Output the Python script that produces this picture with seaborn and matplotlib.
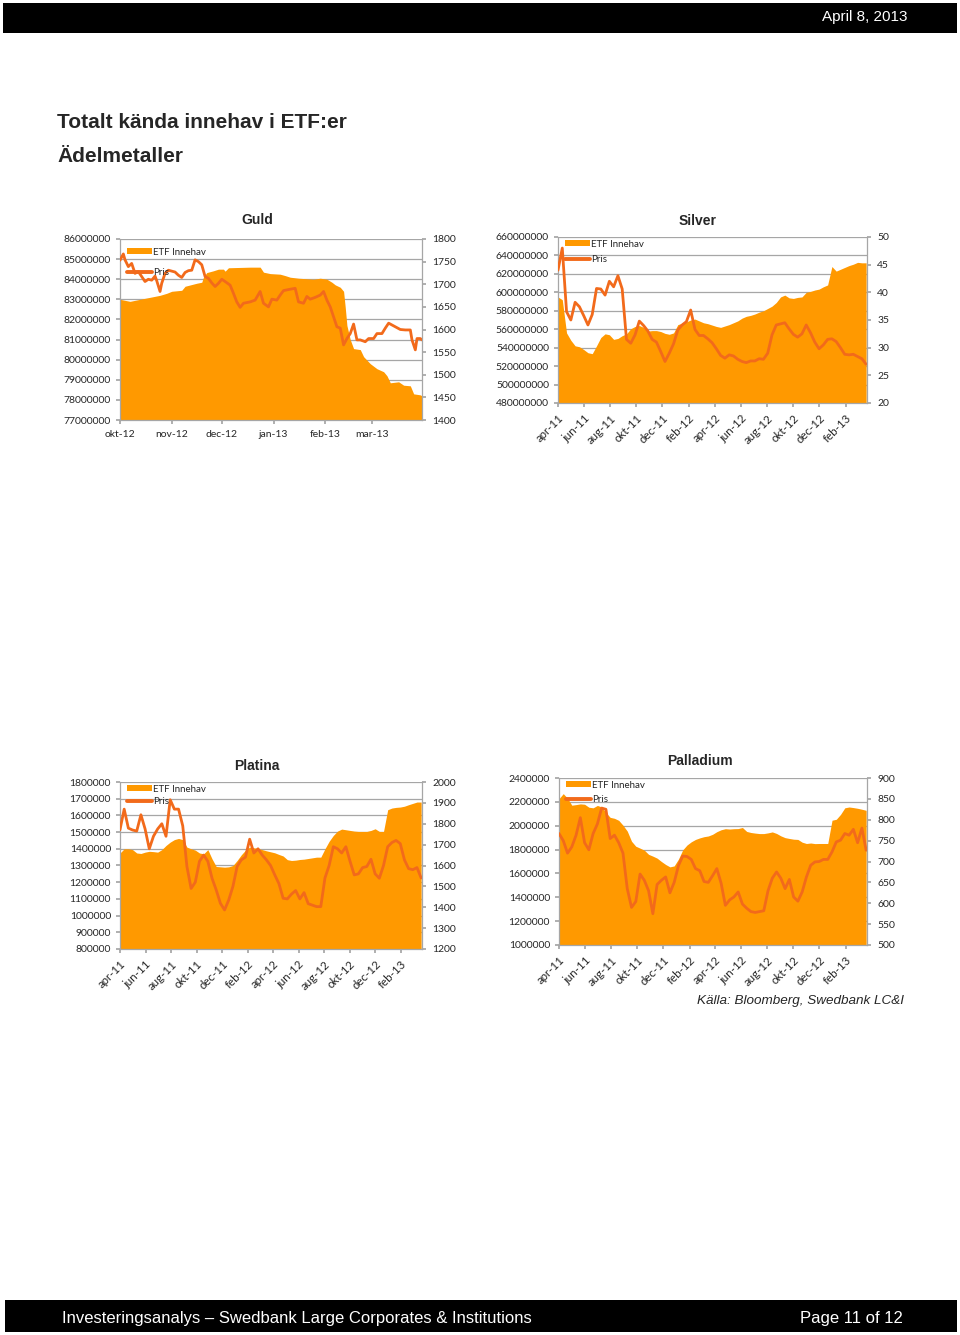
import numpy as np
import pandas as pd
import seaborn as sns
import matplotlib.pyplot as plt
from matplotlib.patches import Patch, Rectangle
from matplotlib.lines import Line2D
from matplotlib.ticker import FuncFormatter

sns.set_theme(style='white')
plt.rcParams['font.family'] = ['Lato', 'DejaVu Sans']

AREA = '#FF9900'
LINE = '#F26A1B'
GRID = '#A6A6A6'
HEAD = ['Liberation Sans Narrow', 'Liberation Sans', 'DejaVu Sans']

# Guld: days since 2012-10-01, holdings in millions of ounces
gold_etf_days = [0, 6, 12, 18, 24, 28, 31, 37, 39, 46, 49, 50, 52, 56, 59, 62, 63, 65, 78, 84,
                 86, 90, 96, 99, 102, 107, 116, 120, 124, 127, 129, 132, 134, 135, 136, 138, 140, 144, 146, 150,
                 154, 158, 160, 162, 167, 170, 174, 176, 180, 181]
gold_etf_mn = [83.0, 82.9, 83.0, 83.1, 83.2, 83.3, 83.4, 83.45, 83.65, 83.8,
               83.85, 84.1, 84.33, 84.42, 84.5, 84.5, 84.4, 84.57, 84.6, 84.6,
               84.35, 84.28, 84.25, 84.18, 84.1, 84.05, 84.0, 84.05, 84.0, 83.85,
               83.72, 83.6, 83.4, 82.6, 81.7, 81.0, 80.55, 80.5, 80.15, 79.8,
               79.55, 79.4, 79.2, 78.85, 78.9, 78.73, 78.7, 78.3, 78.25, 78.2]
gold_price_days = [0, 2, 3, 5, 7, 9, 11, 13, 15, 17, 19, 21, 22, 24, 25, 27, 29, 31, 33, 35,
                   37, 39, 41, 43, 45, 47, 49, 51, 53, 55, 57, 59, 61, 63, 66, 68, 70, 72, 74, 78,
                   81, 84, 86, 89, 91, 94, 96, 98, 102, 105, 107, 110, 112, 114, 117, 120, 122, 124, 126, 128,
                   130, 132, 134, 136, 138, 140, 142, 144, 147, 149, 152, 154, 157, 159, 161, 163, 165, 168, 171, 174,
                   175, 177, 178, 180, 181]
gold_price = [1753, 1767, 1754, 1739, 1746, 1724, 1728, 1717, 1706, 1711,
              1709, 1718, 1708, 1684, 1702, 1724, 1731, 1729, 1727, 1720,
              1715, 1726, 1730, 1731, 1754, 1750, 1743, 1717, 1713, 1703,
              1695, 1702, 1711, 1706, 1698, 1680, 1661, 1649, 1658, 1661,
              1665, 1684, 1658, 1650, 1667, 1665, 1676, 1686, 1689, 1691,
              1661, 1658, 1673, 1667, 1671, 1676, 1684, 1665, 1650, 1628,
              1606, 1603, 1566, 1580, 1591, 1612, 1577, 1577, 1573, 1580,
              1580, 1591, 1591, 1603, 1614, 1610, 1606, 1600, 1599, 1599,
              1577, 1555, 1580, 1580, 1577]
gold_months = ['okt-12', 'nov-12', 'dec-12', 'jan-13', 'feb-13', 'mar-13']

# Silver, Platina, Palladium: one reading every 10 days from 2011-04-01
long_months = ['apr-11', 'jun-11', 'aug-11', 'okt-11', 'dec-11', 'feb-12',
               'apr-12', 'jun-12', 'aug-12', 'okt-12', 'dec-12', 'feb-13']

silver_etf_mn = [595, 592, 556, 548, 542, 541, 538, 534.5, 533.5, 542,
                 551, 555, 554, 549, 550, 553, 555, 560.5, 563, 564,
                 562, 558, 558.5, 558.5, 557.5, 555.5, 554.5, 556, 565, 566.5,
                 568, 570, 571, 569, 567, 566, 564.5, 563, 562, 563.5,
                 565, 567, 569, 572, 574, 575, 576.5, 578.5, 580, 582.5,
                 585, 589, 595, 597, 594, 593.4, 594.5, 595, 600, 601,
                 602.5, 603.5, 606, 608, 628, 623, 625, 627, 629, 630.5,
                 632.5, 632, 632]
silver_price = [44.0, 48.0, 36.5, 35.0, 38.2, 37.4, 35.8, 34.1, 36.0, 40.7,
                40.6, 39.5, 42.0, 41.0, 43.0, 40.6, 31.5, 30.8, 32.3, 34.8,
                34.0, 33.0, 31.5, 31.0, 29.3, 27.5, 29.0, 30.7, 33.2, 34.1,
                34.7, 36.8, 33.3, 32.2, 32.2, 31.6, 30.9, 29.8, 28.6, 28.1,
                28.7, 28.5, 27.9, 27.5, 27.3, 27.6, 27.6, 28.0, 27.9, 29.0,
                32.3, 34.1, 34.3, 34.5, 33.4, 32.4, 31.9, 32.5, 34.1, 32.7,
                31.0, 29.8, 30.5, 31.5, 31.6, 31.1, 30.0, 28.8, 28.7, 28.8,
                28.4, 28.0, 27.0]

platina_etf_k = [1375, 1400, 1400, 1395, 1375, 1372, 1380, 1385, 1383, 1380,
                 1395, 1420, 1440, 1455, 1462, 1455, 1410, 1400, 1392, 1375,
                 1370, 1395, 1340, 1294, 1292, 1290, 1292, 1300, 1330, 1364,
                 1392, 1410, 1406, 1402, 1395, 1388, 1382, 1376, 1366, 1357,
                 1335, 1330, 1332, 1336, 1338, 1342, 1346, 1350, 1350, 1400,
                 1445, 1480, 1506, 1518, 1514, 1510, 1506, 1504, 1504, 1504,
                 1510, 1520, 1504, 1504, 1634, 1644, 1648, 1650, 1655, 1664,
                 1672, 1680, 1680]
platina_price = [1771, 1870, 1779, 1770, 1765, 1843, 1775, 1680, 1740, 1775,
                 1800, 1740, 1915, 1870, 1870, 1790, 1595, 1490, 1520, 1620,
                 1650, 1620, 1539, 1483, 1419, 1387, 1435, 1500, 1595, 1627,
                 1640, 1726, 1660, 1680, 1650, 1627, 1600, 1555, 1513, 1443,
                 1440, 1463, 1480, 1440, 1470, 1417, 1410, 1403, 1403, 1540,
                 1600, 1690, 1680, 1660, 1690, 1620, 1555, 1560, 1590, 1595,
                 1630, 1560, 1539, 1600, 1690, 1710, 1720, 1705, 1627, 1585,
                 1580, 1590, 1540]

palladium_etf_k = [2227, 2269, 2230, 2172, 2177, 2183, 2180, 2155, 2150, 2170,
                   2157, 2110, 2070, 2062, 2045, 2004, 1955, 1870, 1828, 1812,
                   1795, 1760, 1745, 1728, 1700, 1675, 1655, 1663, 1720, 1797,
                   1838, 1865, 1885, 1898, 1908, 1914, 1928, 1950, 1966, 1975,
                   1972, 1975, 1976, 1985, 1952, 1943, 1938, 1934, 1934, 1940,
                   1948, 1935, 1915, 1900, 1893, 1887, 1885, 1862, 1851, 1855,
                   1850, 1851, 1851, 1851, 2046, 2054, 2095, 2150, 2157, 2152,
                   2146, 2138, 2129]
palladium_price = [767, 750, 720, 735, 763, 805, 745, 728, 767, 790,
                   828, 825, 755, 763, 745, 720, 635, 590, 604, 670,
                   655, 630, 575, 645, 655, 663, 625, 650, 690, 713,
                   712, 705, 683, 678, 652, 650, 666, 683, 648, 595,
                   608, 615, 627, 598, 588, 580, 578, 580, 582, 630,
                   660, 675, 660, 635, 657, 615, 605, 627, 663, 691,
                   699, 700, 705, 705, 723, 747, 751, 767, 763, 777,
                   745, 780, 727]

gold_start = pd.Timestamp('2012-10-01')
gold_etf_dates = gold_start + pd.to_timedelta(gold_etf_days, unit='D')
gold_price_dates = gold_start + pd.to_timedelta(gold_price_days, unit='D')
long_dates = pd.date_range('2011-04-01', periods=len(silver_price), freq='10D')

W, H = 960, 1335
fig = plt.figure(figsize=(W / 100, H / 100), dpi=100)


def rect(x0, y0, x1, y1):
    # pixel box -> figure fraction
    return [x0 / W, 1 - y1 / H, (x1 - x0) / W, (y1 - y0) / H]


def plain(v, pos):
    return f'{v:.0f}'


def panel(box, title, title_xy, area_x, area_y, line_x, line_y, left_lim, left_step,
          right_lim, right_step, ticks, labels, xlim, rotate, spacing, leg_y):
    ax = fig.add_axes(rect(*box))
    ax.fill_between(area_x, left_lim[0], area_y, color=AREA, lw=0, zorder=1)
    ax.set_ylim(*left_lim)
    ax.set_yticks(np.arange(left_lim[0], left_lim[1] + left_step / 2, left_step))
    ax.yaxis.set_major_formatter(FuncFormatter(plain))
    ax.grid(axis='y', color=GRID, lw=0.9)
    ax.set_axisbelow(True)
    ax.set_xlim(*xlim)
    ax.set_xticks(ticks)
    ax.set_xticklabels(labels)
    ax.tick_params(axis='y', labelsize=7.5, length=3, left=True, pad=3.5, color=GRID)
    ax.tick_params(axis='x', labelsize=8.3 if rotate else 7.5, length=3, bottom=True,
                   pad=4, color=GRID)
    for s in ['top', 'right']:
        ax.spines[s].set_visible(False)
    for s in ['left', 'bottom']:
        ax.spines[s].set_color(GRID)
        ax.spines[s].set_linewidth(0.9)
    if rotate:
        for lab in ax.get_xticklabels():
            lab.set_rotation(45)
            lab.set_ha('right')
            lab.set_rotation_mode('anchor')

    ax2 = ax.twinx()
    sns.lineplot(x=line_x, y=line_y, ax=ax2, color=LINE, lw=2.0)
    ax2.set_ylim(*right_lim)
    ax2.set_yticks(np.arange(right_lim[0], right_lim[1] + right_step / 2, right_step))
    ax2.yaxis.set_major_formatter(FuncFormatter(plain))
    ax2.set_xlim(*xlim)
    ax2.set_ylabel('')
    ax2.tick_params(axis='y', labelsize=7.5, length=3, color=GRID, right=True, pad=4.5)
    for s in ['top', 'left', 'bottom']:
        ax2.spines[s].set_visible(False)
    ax2.spines['right'].set_color(GRID)
    ax2.spines['right'].set_linewidth(0.9)

    handles = [Patch(facecolor=AREA, edgecolor='none'), Line2D([0], [0], color=LINE, lw=2.8)]
    ax2.legend(handles, ['ETF Innehav', 'Pris'], loc='upper left', bbox_to_anchor=(0.0, leg_y),
               frameon=False, fontsize=7, handlelength=2.6, handleheight=0.55,
               labelspacing=spacing, handletextpad=0.1, borderaxespad=0.3)

    fig.text(title_xy[0] / W, 1 - title_xy[1] / H, title, ha='center', va='center',
             fontsize=10, fontweight='bold', family=['Liberation Sans', 'DejaVu Sans'])


gold_ticks = pd.date_range('2012-10-01', periods=len(gold_months), freq='MS')
long_ticks = pd.date_range('2011-04-01', periods=len(long_months), freq='2MS')
gold_xlim = (pd.Timestamp('2012-10-01'), pd.Timestamp('2013-03-31'))
long_xlim = (pd.Timestamp('2011-04-01'), pd.Timestamp('2013-03-23'))

panel((120, 239, 422, 420), 'Guld', (257, 220), gold_etf_dates, np.array(gold_etf_mn) * 1e6,
      gold_price_dates, gold_price, (77e6, 86e6), 1e6, (1400, 1800), 50,
      gold_ticks, gold_months, gold_xlim, False, 1.2, 0.99)
panel((558, 237, 867, 403), 'Silver', (698, 221), long_dates, np.array(silver_etf_mn) * 1e6,
      long_dates, silver_price, (480e6, 660e6), 20e6, (20, 50), 5,
      long_ticks, long_months, long_xlim, True, 0.7, 1.025)
panel((120, 782, 422, 949), 'Platina', (257, 766), long_dates, np.array(platina_etf_k) * 1e3,
      long_dates, platina_price, (800e3, 1800e3), 100e3, (1200, 2000), 100,
      long_ticks, long_months, long_xlim, True, 0.35, 1.025)
panel((559, 778, 867, 945), 'Palladium', (700, 761), long_dates, np.array(palladium_etf_k) * 1e3,
      long_dates, palladium_price, (1000e3, 2400e3), 200e3, (500, 900), 50,
      long_ticks, long_months, long_xlim, True, 0.55, 1.025)

# page furniture
fig.add_artist(Rectangle((3 / W, 1 - 33 / H), 954 / W, 30 / H, transform=fig.transFigure,
                         facecolor='black', edgecolor='none'))
fig.add_artist(Rectangle((5 / W, 1 - 1332 / H), 952 / W, 32 / H, transform=fig.transFigure,
                         facecolor='black', edgecolor='none'))
fig.text(908 / W, 1 - 17 / H, 'April 8, 2013', ha='right', va='center', color='white',
         fontsize=11, family=HEAD)
fig.text(57 / W, 1 - 123 / H, 'Totalt kända innehav i ETF:er', ha='left', va='center',
         fontsize=15, fontweight='bold', family=HEAD)
fig.text(57 / W, 1 - 156 / H, 'Ädelmetaller', ha='left', va='center',
         fontsize=15, fontweight='bold', family=HEAD)
fig.text(904 / W, 1 - 1001 / H, 'Källa: Bloomberg, Swedbank LC&I', ha='right', va='center',
         fontsize=9.7, style='italic', family=['Liberation Sans', 'DejaVu Sans'])
fig.text(62 / W, 1 - 1318 / H, 'Investeringsanalys – Swedbank Large Corporates & Institutions',
         ha='left', va='center', color='white', fontsize=12, family=HEAD)
fig.text(903 / W, 1 - 1318 / H, 'Page 11 of 12', ha='right', va='center', color='white',
         fontsize=12, family=HEAD)

fig.savefig('out.png', dpi=100)
